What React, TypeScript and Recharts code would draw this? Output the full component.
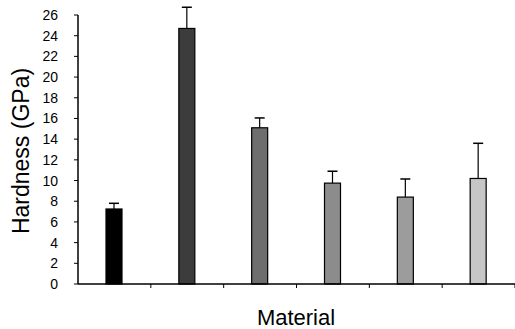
import React from 'react';
import { BarChart, Bar, XAxis, YAxis } from 'recharts';

// Hardness per material
const materials = ['A', 'B', 'C', 'D', 'E', 'F'];
const hardness = [7.25, 24.7, 15.1, 9.75, 8.4, 10.2];
const errors = [0.55, 2.05, 0.95, 1.15, 1.75, 3.4];
const fills = ['#000000', '#3c3c3c', '#6e6e6e', '#8c8c8c', '#9c9c9c', '#c6c6c6'];
const yTicks = [0, 2, 4, 6, 8, 10, 12, 14, 16, 18, 20, 22, 24, 26];

const data = materials.map((name, i) => ({
  name,
  hardness: hardness[i],
  err: errors[i],
  fill: fills[i],
}));

const font = '"Liberation Sans", Arial, sans-serif';

// bar with a one-sided (upper) error bar, scaled from the bar's own pixel height
const BarWithError = (props: any) => {
  const { x, y, width, height, payload } = props;
  const pxPerUnit = payload.hardness ? height / payload.hardness : 0;
  const cx = x + width / 2;
  const top = y - payload.err * pxPerUnit;
  return (
    <g>
      <rect x={x} y={y} width={width} height={height} fill={payload.fill} stroke="#000" strokeWidth={1.2} />
      <line x1={cx} y1={y} x2={cx} y2={top} stroke="#000" strokeWidth={1.2} />
      <line x1={cx - 5} y1={top} x2={cx + 5} y2={top} stroke="#000" strokeWidth={1.5} />
    </g>
  );
};

// category ticks sit on the boundaries between bars
const BoundaryTick = (props: any) => {
  const { payload, y } = props;
  const bx = payload.coordinate + (payload.offset || 0);
  return <line x1={bx} y1={y - 8} x2={bx} y2={y - 4} stroke="#000" strokeWidth={1} />;
};

const YLabel = () => (
  <text
    transform="translate(29,151) rotate(-90)"
    textAnchor="middle"
    fontFamily={font}
    fontSize={23}
    fill="#000"
  >
    Hardness (GPa)
  </text>
);

const XLabel = () => (
  <text x={296} y={325} textAnchor="middle" fontFamily={font} fontSize={22} fill="#000">
    Material
  </text>
);

const App = () => {
  return (
    <div style={{ position: 'fixed', left: 0, top: 0, width: 515, height: 329, background: '#fff' }}>
      <BarChart width={515} height={329} data={data} margin={{ top: 15, right: 0, bottom: 0, left: 0 }}>
        <XAxis
          dataKey="name"
          height={45}
          tick={<BoundaryTick />}
          tickLine={false}
          axisLine={{ stroke: '#000', strokeWidth: 1.5 }}
          interval={0}
          label={{ content: <XLabel /> }}
        />
        <YAxis
          width={78}
          domain={[0, 26]}
          ticks={yTicks}
          interval={0}
          tickSize={4}
          tickMargin={16}
          tick={{ fill: '#000', fontSize: 14, fontFamily: font }}
          tickLine={{ stroke: '#000' }}
          axisLine={{ stroke: '#000', strokeWidth: 1.5 }}
          label={{ content: <YLabel /> }}
        />
        <Bar dataKey="hardness" barSize={16} shape={<BarWithError />} isAnimationActive={false} />
      </BarChart>
    </div>
  );
};

export default App;
